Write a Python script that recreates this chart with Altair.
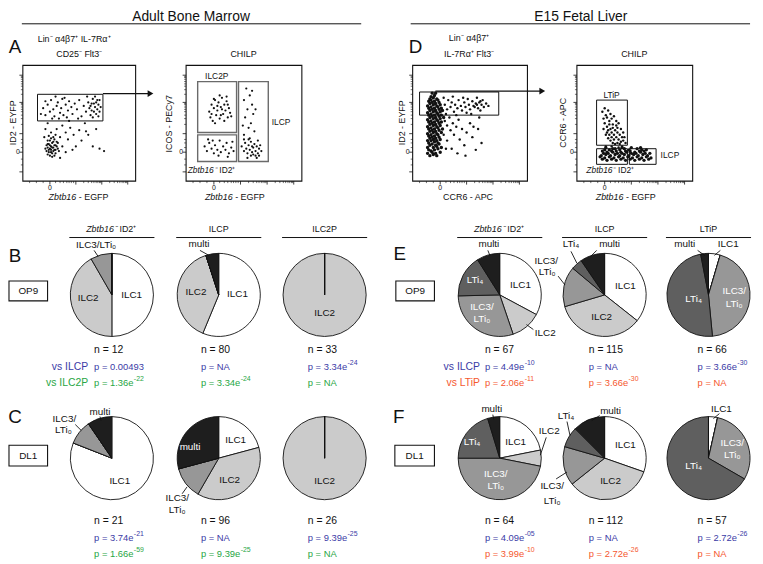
import altair as alt
import pandas as pd

FONT = "Liberation Sans"
K = "#111111"
WHITE = "#ffffff"
BLUE = "#3b3ba6"
GREEN = "#27a644"
ORANGE = "#f5582f"

# ======================= DATA =======================
categories = ["ILC1", "ILC2", "ILC3/LTi0", "LTi4", "multi"]
category_colors = ["#ffffff", "#cbcbcb", "#979797", "#5f5f5f", "#1e1e1e"]

pie_names = ["B1", "B2", "B3", "C1", "C2", "C3", "E1", "E2", "E3", "F1", "F2", "F3"]
ilc1_counts = [6, 45, 0, 17, 20, 0, 22, 41, 3, 14, 34, 2]
ilc2_counts = [5, 31, 33, 0, 36, 26, 8, 40, 0, 4, 38, 0]
ilc3_counts = [1, 0, 0, 2, 12, 0, 20, 18, 29, 30, 17, 17]
lti4_counts = [0, 0, 0, 0, 0, 0, 11, 5, 32, 13, 9, 38]
multi_counts = [0, 4, 0, 2, 28, 0, 6, 11, 2, 3, 14, 0]
n_cells = [12, 80, 33, 21, 96, 26, 67, 115, 66, 64, 112, 57]

p_first = ["0.00493", "NA", "3.34e-24", "3.74e-21", "NA", "9.39e-25",
           "4.49e-10", "NA", "3.66e-30", "4.09e-05", "NA", "2.72e-26"]
p_second = ["1.36e-22", "3.34e-24", "NA", "1.66e-59", "9.39e-25", "NA",
            "2.06e-11", "3.66e-30", "NA", "3.99e-10", "2.72e-26", "NA"]

# flow cytometry events (u = x axis %, v = y axis %)
a1_events = [
    (16, 58), (18, 63), (20, 57), (22, 66), (24, 60), (25, 70), (27, 62), (28, 56), (30, 65), (31, 68),
    (33, 59), (34, 63), (35, 71), (36, 57), (38, 66), (40, 61), (41, 69), (43, 64), (44, 58), (46, 67),
    (20, 69), (26, 54), (32, 54), (39, 55), (37, 72), (29, 73), (48, 62), (50, 70), (52, 56), (54, 65),
    (56, 60), (58, 68), (49, 54), (57, 73), (59, 63), (60, 57), (61, 67), (62, 71), (63, 60), (64, 64),
    (65, 58), (65, 68), (66, 62), (67, 66), (68, 60), (69, 64), (62, 55), (64, 73), (66, 70), (60, 65),
    (63, 67), (67, 56), (68, 70), (61, 61),
    (21, 26), (22, 29), (23, 25), (23, 32), (24, 28), (24, 35), (25, 27), (25, 30), (26, 24), (26, 33),
    (27, 29), (27, 26), (28, 31), (28, 36), (29, 27), (29, 24), (30, 30), (30, 34), (22, 23), (24, 22),
    (26, 21), (28, 22), (25, 37), (27, 38), (23, 39), (29, 40), (31, 28), (31, 33), (21, 31), (22, 35),
    (20, 28), (32, 26), (26, 29), (24, 31), (28, 27), (23, 27), (25, 25), (27, 34), (29, 31), (22, 32),
    (20, 45), (22, 50), (25, 42), (30, 45), (33, 38), (35, 48), (38, 42), (40, 36), (42, 46), (45, 40),
    (47, 30), (50, 44), (52, 35), (55, 50), (58, 40), (62, 30), (65, 45), (68, 28), (72, 26), (35, 30),
    (38, 25), (44, 27), (33, 20), (19, 38), (41, 52), (56, 43),
]
a2_events = [
    (20, 60), (21, 55), (22, 66), (23, 52), (24, 63), (25, 70), (26, 57), (27, 61), (28, 68), (29, 54),
    (30, 64), (31, 72), (32, 58), (33, 66), (34, 61), (35, 69), (36, 55), (37, 63), (38, 59), (25, 50),
    (29, 74), (33, 52), (35, 73), (22, 58), (27, 65), (31, 62), (36, 66), (39, 56), (24, 71), (30, 57),
    (16, 30), (18, 26), (20, 33), (22, 28), (24, 24), (25, 31), (27, 27), (29, 35), (30, 25), (32, 30),
    (34, 27), (35, 33), (37, 24), (39, 29), (40, 34), (41, 26), (19, 36), (28, 22), (36, 21), (23, 35),
    (52, 80), (55, 74), (50, 70), (57, 66), (53, 62), (58, 58), (51, 55), (56, 50), (54, 46), (59, 43),
    (50, 40), (55, 37), (60, 62), (49, 48), (57, 78),
    (48, 30), (50, 26), (51, 33), (52, 28), (53, 24), (54, 31), (55, 27), (56, 34), (57, 25), (58, 29),
    (59, 32), (60, 26), (61, 30), (62, 24), (63, 28), (64, 31), (62, 35), (60, 22), (58, 23), (56, 22),
    (54, 36), (50, 36), (53, 20), (61, 20), (63, 22), (65, 26), (57, 30),
]
# D1: dense ID2+ CCR6- column, then the sparser events
d1_core_events = [
    (15, 22), (18, 23), (21, 22), (13, 24), (17, 25), (20, 24), (24, 25), (14, 27), (16, 26), (19, 27),
    (22, 28), (13, 29), (18, 29), (21, 30), (25, 29), (15, 31), (17, 32), (20, 31), (23, 32), (14, 33),
    (19, 34), (22, 33), (13, 35), (16, 35), (18, 36), (21, 35), (24, 36), (15, 37), (17, 38), (20, 37),
    (23, 38), (14, 39), (16, 40), (19, 39), (22, 40), (13, 41), (18, 42), (21, 41), (25, 42), (15, 43),
    (17, 44), (20, 43), (23, 44), (14, 45), (16, 46), (19, 45), (22, 46), (26, 45), (13, 47), (18, 48),
    (21, 47), (24, 48), (15, 49), (17, 50), (20, 49), (23, 50), (14, 51), (16, 52), (19, 51), (22, 52),
    (25, 51), (13, 53), (18, 54), (21, 53), (24, 54), (15, 55), (17, 56), (20, 55), (23, 56), (27, 55),
    (14, 57), (16, 58), (19, 57), (22, 58), (25, 57), (13, 59), (18, 60), (21, 59), (24, 60), (15, 61),
    (17, 62), (20, 61), (23, 62), (26, 61), (14, 63), (16, 64), (19, 63), (22, 64), (25, 63), (13, 65),
    (18, 66), (21, 65), (24, 66), (15, 67), (17, 68), (20, 67), (23, 68), (14, 69), (16, 70), (19, 69),
    (22, 70), (15, 71), (18, 72), (21, 71), (16, 73), (19, 74), (17, 76), (20, 76),
]
d1_events = [
    (28, 66), (30, 62), (31, 70), (33, 64), (34, 68), (36, 60), (37, 66), (39, 63), (40, 70), (42, 65),
    (43, 61), (45, 68), (46, 64), (48, 71), (49, 66), (50, 62), (52, 69), (53, 65), (55, 67), (56, 72),
    (57, 63), (58, 68), (60, 66), (61, 70), (62, 64), (64, 67), (66, 65), (44, 72), (35, 73), (29, 58),
    (38, 57), (47, 59), (51, 58), (59, 61), (27, 72), (54, 64), (56, 66), (59, 69),
    (28, 52), (30, 48), (32, 55), (33, 44), (35, 50), (36, 40), (38, 47), (40, 53), (41, 36), (43, 45),
    (45, 31), (47, 42), (50, 50), (52, 38), (55, 27), (57, 45), (60, 33), (30, 35), (34, 28), (39, 24),
    (27, 40), (29, 28), (46, 22), (58, 55), (53, 47),
]
d2_events = [
    (22, 60), (24, 63), (25, 57), (26, 55), (27, 61), (28, 52), (29, 58), (30, 54), (31, 49), (32, 56),
    (24, 50), (26, 47), (27, 44), (28, 49), (29, 45), (30, 42), (31, 46), (32, 40), (33, 44), (34, 38),
    (35, 42), (36, 36), (37, 40), (38, 34), (39, 38), (40, 35), (25, 40), (27, 37), (29, 35), (31, 33),
    (33, 32), (35, 33), (37, 32), (23, 45), (34, 48), (36, 50), (38, 45), (40, 42), (41, 38), (30, 38),
    (26, 42), (28, 40), (32, 36), (35, 46), (42, 33), (23, 54), (34, 52), (39, 30), (25, 30), (30, 30),
    (36, 29),
]
# D2: dense band at the bottom of the CHILP plot
d2_band_events = [
    (22, 19), (26, 18), (30, 19), (34, 18), (38, 19), (42, 18), (46, 19), (50, 18), (54, 19), (58, 18),
    (62, 19), (20, 21), (24, 20), (28, 21), (32, 20), (36, 21), (40, 20), (44, 21), (48, 20), (52, 21),
    (56, 20), (60, 21), (64, 20), (21, 22), (25, 23), (29, 22), (33, 23), (37, 22), (41, 23), (45, 22),
    (49, 23), (53, 22), (57, 23), (61, 22), (23, 24), (27, 24), (31, 25), (35, 24), (39, 24), (43, 25),
    (47, 24), (51, 24), (55, 25), (59, 24), (63, 24), (22, 26), (26, 25), (30, 26), (34, 26), (38, 25),
    (42, 26), (46, 26), (50, 25), (54, 26), (58, 26), (24, 27), (28, 27), (33, 28), (37, 27), (41, 28),
    (45, 27), (52, 28), (56, 27), (60, 27), (25, 29), (31, 28), (39, 29), (47, 29), (55, 29),
]

# ======================= LAYOUT (positions only) =======================
W, H = 755, 556
XS = alt.Scale(domain=[8, 763], nice=False, zero=False)
YS = alt.Scale(domain=[8, 564], nice=False, zero=False, reverse=True)
R = 42

pie_center = {
    "B1": (113, 295), "B2": (221, 295), "B3": (328, 295),
    "C1": (113, 460), "C2": (221, 460), "C3": (328, 460),
    "E1": (505, 295), "E2": (611, 295), "E3": (716, 295),
    "F1": (505, 460), "F2": (611, 460), "F3": (716, 460),
}
stat_x = {"B1": 95, "B2": 203, "B3": 311, "C1": 95, "C2": 203, "C3": 311,
          "E1": 490, "E2": 595, "E3": 705, "F1": 490, "F2": 595, "F3": 705}
stat_y = {"B": (351, 368, 384), "C": (524, 541, 557), "E": (351, 368, 384), "F": (524, 541, 557)}

plots = {  # x0, y0, x1, y1
    "A1": (23, 63, 137, 180), "A2": (188, 63, 305, 180),
    "D1": (417, 63, 533, 180), "D2": (583, 63, 700, 180),
}
gates = [  # plot, u0, u1, v0, v1, colour, width
    ("A1", 13, 71, 52, 75, K, 1.0),
    ("A2", 10, 43.6, 42, 86, "#6a6a6a", 1.4),
    ("A2", 10, 43.6, 17, 40, "#6a6a6a", 1.4),
    ("A2", 45.3, 71, 17, 86, "#6a6a6a", 1.4),
    ("D1", 6, 75, 57, 77, K, 1.0),
    ("D2", 17, 43.6, 31, 70, K, 1.0),
    ("D2", 17, 43.6, 14.5, 28, K, 1.0),
    ("D2", 45.3, 68.4, 14.5, 28, K, 1.0),
]
y_major = [8, 25, 41, 68, 91.5]
y_minor = [14, 19, 29, 33, 36, 49, 54, 57, 60, 62, 64, 66, 67, 75, 79, 82, 84, 86, 88, 89.5, 90.5]
x_major = [24, 47, 70, 93]
x_minor = [6, 12, 18, 29, 33, 36, 39, 41, 43, 45, 54, 58, 61, 63, 65, 66.5, 68, 69,
           77, 81, 84, 86, 88, 89.5, 91, 92]

# Arial / Liberation Sans advance widths (em) for the characters of the p-value texts
ADV = {"p": 0.556, " ": 0.278, "=": 0.584, ".": 0.278, "e": 0.556, "N": 0.722, "A": 0.667, "-": 0.333}


def text_width(s, size):
    return sum(ADV.get(c, 0.556) for c in s) * size


def X(f):
    return alt.X(f, type="quantitative", scale=XS, axis=None)


def Y(f):
    return alt.Y(f, type="quantitative", scale=YS, axis=None)


def to_px(plot, u, v):
    x0, y0, x1, y1 = plots[plot]
    return x0 + (x1 - x0) * u / 100.0, y1 - (y1 - y0) * v / 100.0


texts = []   # x, y, text, size, color, align, style, angle


def T(x, y, s, size=9, color=K, align="center", style="normal", angle=0):
    texts.append((x, y, s, size, color, align, style, angle))


def T_mixed(cx, y, ital, rest, size, anchor_off, gap=2.6):
    T(cx + anchor_off, y, ital, size, K, "right", "italic")
    T(cx + anchor_off + gap, y, rest, size, K, "left", "normal")


def T_pvalue(x, y, value, color, size=9.5):
    if "e" in value:
        mant, expo = value.split("e")
        base = f"p = {mant}e"
        T(x, y, base, size, color, "left")
        T(x + text_width(base, size) + 0.3, y - 4.2, expo, 7, color, "left")
    else:
        T(x, y, f"p = {value}", size, color, "left")


rules = []   # x, y, x2, y2, color, width
rects = []   # x, y, x2, y2, color, width

# ---- titles
T(193, 14, "Adult Bone Marrow", 14)
T(587, 14, "E15 Fetal Liver", 14)
rules += [(22, 21, 365, 21, K, 1.0), (415, 21, 758, 21, K, 1.0)]

# ---- panel letters
for s, x, y in [("A", 15, 45), ("D", 420, 45), ("B", 15, 256), ("C", 15, 418), ("E", 404, 254), ("F", 403, 418)]:
    T(x, y, s, 19)

# ---- flow plot headers and axis titles
T(38, 36, "Lin⁻ α4β7⁺ IL-7Rα⁺", 9, align="left")
T(80, 52, "CD25⁻ Flt3⁻", 9)
T(246, 52, "CHILP", 9)
T(474, 35, "Lin⁻ α4β7⁺", 9)
T(474, 52, "IL-7Rα⁺ Flt3⁻", 9)
T(641, 52, "CHILP", 9)
T(13, 121, "ID2 - EYFP", 9, angle=270)
T(171, 122, "ICOS - PECy7", 9, angle=270)
T(406, 121, "ID2 - EYFP", 9, angle=270)
T(569, 121, "CCR6 - APC", 9, angle=270)
T_mixed(80, 196, "Zbtb16", "- EGFP", 9, -3)
T_mixed(238, 196, "Zbtb16", "- EGFP", 9, -3)
T(473, 196, "CCR6 - APC", 9)
T_mixed(633, 196, "Zbtb16", "- EGFP", 9, -3)
# gate labels
T(219, 74, "ILC2P", 8.5)
T(284, 120, "ILCP", 8.5)
T_mixed(215, 169, "Zbtb16⁻", "ID2⁺", 8.5, 4)
T(618, 93, "LTiP", 8.5)
T(677, 154, "ILCP", 8.5)
T_mixed(618, 169, "Zbtb16⁻", "ID2⁺", 8.5, 4)

# ---- flow plot frames, ticks, zero labels, gates
for p, (x0, y0, x1, y1) in plots.items():
    rects.append((x0, y0, x1, y1, K, 1.1))
    for v in y_major:
        _, yy = to_px(p, 0, v)
        rules.append((x0 - 3.5, yy, x0, yy, K, 0.8))
    for v in y_minor:
        _, yy = to_px(p, 0, v)
        rules.append((x0 - 2, yy, x0, yy, K, 0.6))
    for u in x_major:
        xx, _ = to_px(p, u, 0)
        rules.append((xx, y1, xx, y1 + 3.5, K, 0.8))
    for u in x_minor:
        xx, _ = to_px(p, u, 0)
        rules.append((xx, y1, xx, y1 + 2, K, 0.6))
    zx, zy = to_px(p, 24, 25)
    T(x0 - 5, zy, "0", 7)
    T(zx, y1 + 7, "0", 7)
for p, u0, u1, v0, v1, col, wd in gates:
    gx0, gy1 = to_px(p, u0, v0)
    gx1, gy0 = to_px(p, u1, v1)
    rects.append((gx0, gy0, gx1, gy1, col, wd))

# arrows between plots
rules += [(104, 91.5, 150, 91.5, K, 1.2), (440, 89, 546, 89, K, 1.2)]
arrow_heads = pd.DataFrame({"x": [152, 548], "y": [91.5, 89]})

# ---- pie headers
headers = {"B1": "Z", "B2": "ILCP", "B3": "ILC2P", "E1": "Z", "E2": "ILCP", "E3": "LTiP"}
for pname, h in headers.items():
    cx, _ = pie_center[pname]
    if h == "Z":
        T_mixed(cx, 228, "Zbtb16⁻", "ID2⁺", 9, 5)
    else:
        T(cx, 228, h, 9)
    rules.append((cx - 43, 237, cx + 43, 237, K, 1.0))

# ---- OP9 / DL1 boxes
for x0, y0, x1, y1, s in [(9, 281, 48, 301, "OP9"), (9, 447, 48, 468, "DL1"),
                           (400, 281, 439, 301, "OP9"), (399, 447, 439, 468, "DL1")]:
    rects.append((x0, y0, x1, y1, K, 1.1))
    T((x0 + x1) / 2, (y0 + y1) / 2, s, 10)

# ---- n / p statistics
for i, pname in enumerate(pie_names):
    row = pname[0]
    ny, p1y, p2y = stat_y[row]
    sx = stat_x[pname]
    c2 = GREEN if row in "BC" else ORANGE
    T(sx, ny, f"n = {n_cells[i]}", 10.5, align="left")
    T_pvalue(sx, p1y, p_first[i], BLUE)
    T_pvalue(sx, p2y, p_second[i], c2)
T(89, 368, "vs ILCP", 10.5, BLUE, align="right")
T(89, 384, "vs ILC2P", 10.5, GREEN, align="right")
T(485, 368, "vs ILCP", 10.5, BLUE, align="right")
T(485, 384, "vs LTiP", 10.5, ORANGE, align="right")

# ---- pie slice labels (offsets from pie centre) and leader lines
pie_labels = [
    ("B1", "ILC2", -24, 3, K), ("B1", "ILC1", 20, 0, K), ("B1", "ILC3/LTi₀", -16, -50, K),
    ("B2", "ILC2", -23, -3, K), ("B2", "ILC1", 19, -1, K), ("B2", "multi", -20, -51, K),
    ("B3", "ILC2", 0, 18, K),
    ("C1", "ILC1", 8, 23, K), ("C1", "multi", -12, -47, K), ("C1", "ILC3/", -48, -40, K), ("C1", "LTi₀", -49, -28, K),
    ("C2", "ILC1", 17, -18, K), ("C2", "multi", -29, -11, WHITE), ("C2", "ILC2", 11, 22, K),
    ("C2", "ILC3/", -42, 40, K), ("C2", "LTi₀", -42, 52, K),
    ("C3", "ILC2", 0, 23, K),
    ("E1", "multi", -11, -51, K), ("E1", "LTi₄", -25, -15, WHITE), ("E1", "ILC1", 21, -10, K),
    ("E1", "ILC3/", -18, 12, WHITE), ("E1", "LTi₀", -18, 24, WHITE), ("E1", "ILC2", 46, 39, K),
    ("E2", "multi", 5, -51, K), ("E2", "LTi₄", -34, -51, K), ("E2", "ILC3/", -59, -34, K),
    ("E2", "LTi₀", -58, -23, K), ("E2", "ILC1", 21, -9, K), ("E2", "ILC2", -3, 22, K),
    ("E3", "multi", -24, -51, K), ("E3", "ILC1", 20, -51, K), ("E3", "LTi₄", -15, 4, WHITE),
    ("E3", "ILC3/", 26, -4, WHITE), ("E3", "LTi₀", 26, 9, WHITE),
    ("F1", "multi", -8, -50, K), ("F1", "LTi₄", -28, -16, WHITE), ("F1", "ILC1", 16, -16, K),
    ("F1", "ILC2", 50, -27, K), ("F1", "ILC3/", -4, 16, WHITE), ("F1", "LTi₀", -4, 28, WHITE),
    ("F2", "multi", 6, -48, K), ("F2", "LTi₄", -39, -43, K), ("F2", "ILC1", 21, -13, K),
    ("F2", "ILC2", 6, 23, K), ("F2", "ILC3/", -53, 28, K), ("F2", "LTi₀", -53, 43, K),
    ("F3", "ILC1", 13, -50, K), ("F3", "LTi₄", -15, 8, WHITE), ("F3", "ILC3/", 24, -15, WHITE),
    ("F3", "LTi₀", 24, -3, WHITE),
]
for pname, s, dx, dy, col in pie_labels:
    cx, cy = pie_center[pname]
    T(cx + dx, cy + dy, s, 10, col)

leaders = [
    ("B1", -18, -45, -14, -39), ("B2", -19, -45, -10, -40),
    ("C1", -12, -42, -11, -38), ("C1", -37, -34, -31, -28), ("C2", -37, 36, -32, 29),
    ("E1", -12, -45, -10, -40), ("E1", 27, 30, 34, 35),
    ("E2", -8, -45, -14, -39), ("E2", -34, -44, -28, -32), ("E2", -47, -19, -40, -10),
    ("E3", -11, -45, -4, -40), ("E3", 12, -45, 6, -40),
    ("F1", -7, -44, -6, -39), ("F1", 47, -21, 41, -3),
    ("F2", -5, -43, -13, -38), ("F2", -38, -37, -35, -23), ("F2", -49, 21, -38, 14),
    ("F3", 11, -45, 5, -40),
]
for pname, a, b, c, d in leaders:
    cx, cy = pie_center[pname]
    rules.append((cx + a, cy + b, cx + c, cy + d, K, 0.9))

# ======================= TABLES =======================
pie_rows = []
for i, pname in enumerate(pie_names):
    cx, cy = pie_center[pname]
    vals = [ilc1_counts[i], ilc2_counts[i], ilc3_counts[i], lti4_counts[i], multi_counts[i]]
    for j, (cat, val) in enumerate(zip(categories, vals)):
        pie_rows.append({"pie": pname, "cat": cat, "order": j, "cells": val, "cx": cx, "cy": cy})
pie_df = pd.DataFrame(pie_rows)

ev_rows = []
for pname, evs, size in [("A1", a1_events, 5), ("A2", a2_events, 5),
                         ("D1", d1_core_events, 12), ("D1", d1_events, 6),
                         ("D2", d2_events, 6), ("D2", d2_band_events, 11)]:
    for u, v in evs:
        px, py = to_px(pname, u, v)
        ev_rows.append({"x": px, "y": py, "sz": size})
ev_df = pd.DataFrame(ev_rows)

layers = []

# pies
layers.append(
    alt.Chart(pie_df)
    .transform_joinaggregate(total="sum(cells)", groupby=["pie"])
    .transform_window(cum="sum(cells)", groupby=["pie"], sort=[alt.SortField("order", order="ascending")],
                      frame=[None, 0])
    .transform_calculate(t1="2 * PI * datum.cum / datum.total",
                         t0="2 * PI * (datum.cum - datum.cells) / datum.total")
    .mark_arc(radius=R, stroke=K, strokeWidth=0.9)
    .encode(
        x=X("cx"), y=Y("cy"),
        theta=alt.Theta("t0:Q", scale=None), theta2=alt.Theta2("t1"),
        color=alt.Color("cat:N", scale=alt.Scale(domain=categories, range=category_colors), legend=None),
    )
)

# rectangles
rect_df = pd.DataFrame(rects, columns=["x", "y", "x2", "y2", "color", "width"])
for (col, wd), g in rect_df.groupby(["color", "width"]):
    layers.append(
        alt.Chart(g).mark_rect(fillOpacity=0, stroke=col, strokeWidth=float(wd))
        .encode(x=X("x"), x2="x2", y=Y("y"), y2="y2")
    )

# rules
rule_df = pd.DataFrame(rules, columns=["x", "y", "x2", "y2", "color", "width"])
for (col, wd), g in rule_df.groupby(["color", "width"]):
    layers.append(
        alt.Chart(g).mark_rule(color=col, strokeWidth=float(wd))
        .encode(x=X("x"), x2="x2", y=Y("y"), y2="y2")
    )

# events
for sz, g in ev_df.groupby("sz"):
    layers.append(
        alt.Chart(g).mark_circle(size=float(sz), color=K, opacity=1)
        .encode(x=X("x"), y=Y("y"))
    )

# arrow heads
layers.append(
    alt.Chart(arrow_heads).mark_point(shape="triangle-right", filled=True, size=45, color=K, opacity=1)
    .encode(x=X("x"), y=Y("y"))
)

# texts
text_df = pd.DataFrame(texts, columns=["x", "y", "text", "size", "color", "align", "style", "angle"])
for (size, col, align, style, angle), g in text_df.groupby(["size", "color", "align", "style", "angle"]):
    layers.append(
        alt.Chart(g).mark_text(font=FONT, fontSize=float(size), color=col, align=align, baseline="middle",
                               fontStyle=style, angle=float(angle))
        .encode(x=X("x"), y=Y("y"), text="text:N")
    )

chart = (
    alt.layer(*layers)
    .properties(width=W, height=H, padding=0, autosize=alt.AutoSizeParams(type="none"), background="white")
    .configure_view(strokeWidth=0)
)

chart.save("out.html", embed_options={"renderer": "svg", "actions": False})
